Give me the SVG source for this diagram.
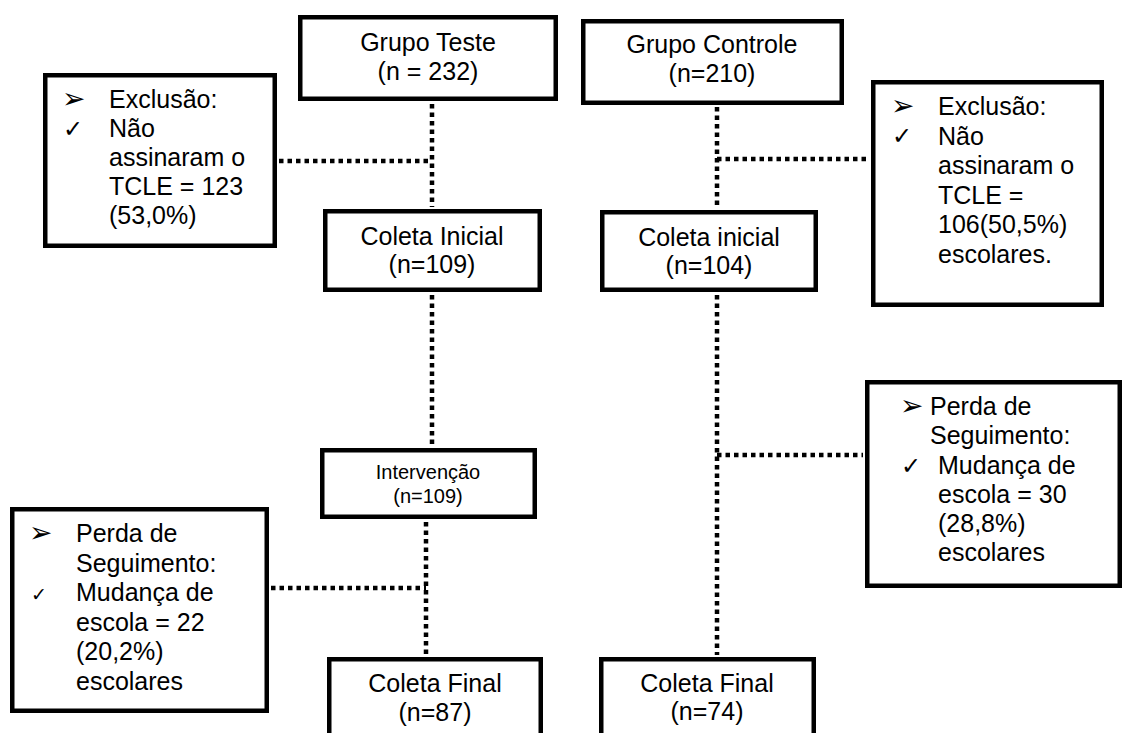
<svg xmlns="http://www.w3.org/2000/svg" width="1130" height="733" viewBox="0 0 1130 733">
<style>
.box{fill:#fff;stroke:#000;stroke-width:4.5}
.t{font-family:"Liberation Sans",Arial,sans-serif;font-size:25px;fill:#000}
.c{text-anchor:middle}
.s{font-size:20px}
.b{font-family:"DejaVu Sans",sans-serif;font-size:28px;fill:#000}
.k{font-family:"DejaVu Sans",sans-serif;font-size:24px;fill:#000}
.dot{stroke:#000;stroke-width:4.5;stroke-dasharray:4.5 4;fill:none}
</style>
<rect width="1130" height="733" fill="#fff"/>
<g id="connectors">
<line class="dot" x1="432" y1="104" x2="432" y2="207"/>
<line class="dot" x1="432" y1="295" x2="432" y2="446"/>
<line class="dot" x1="426" y1="522" x2="426" y2="655"/>
<line class="dot" x1="279" y1="161" x2="432" y2="161"/>
<line class="dot" x1="271" y1="588" x2="426" y2="588"/>
<line class="dot" x1="717" y1="107" x2="717" y2="208"/>
<line class="dot" x1="717" y1="295" x2="717" y2="655"/>
<line class="dot" x1="717" y1="159" x2="869" y2="159"/>
<line class="dot" x1="717" y1="455" x2="863" y2="455"/>
</g>
<g id="grupo-teste">
<rect class="box" x="300.25" y="17.25" width="255.5" height="81.5"/>
<text class="t c" x="428" y="51">Grupo Teste</text>
<text class="t c" x="428" y="80">(n = 232)</text>
</g>
<g id="grupo-controle">
<rect class="box" x="583.25" y="21.25" width="258.5" height="81.5"/>
<text class="t c" x="712" y="53">Grupo Controle</text>
<text class="t c" x="712" y="82">(n=210)</text>
</g>
<g id="exclusao-teste">
<rect class="box" x="45.25" y="75.25" width="229.5" height="170.5"/>
<text class="b" x="62" y="108">➢</text>
<text class="k" x="63" y="137">✓</text>
<text class="t" x="109" y="108">Exclusão:</text>
<text class="t" x="109" y="137">Não</text>
<text class="t" x="109" y="166">assinaram o</text>
<text class="t" x="109" y="195">TCLE = 123</text>
<text class="t" x="109" y="224">(53,0%)</text>
</g>
<g id="coleta-inicial-teste">
<rect class="box" x="325.25" y="211.25" width="214.5" height="78.5"/>
<text class="t c" x="432" y="245">Coleta Inicial</text>
<text class="t c" x="432" y="273">(n=109)</text>
</g>
<g id="coleta-inicial-controle">
<rect class="box" x="602.25" y="212.25" width="213.5" height="77.5"/>
<text class="t c" x="709" y="246">Coleta inicial</text>
<text class="t c" x="709" y="274">(n=104)</text>
</g>
<g id="exclusao-controle">
<rect class="box" x="873.25" y="82.25" width="228.5" height="222.5"/>
<text class="b" x="891" y="115">➢</text>
<text class="k" x="892" y="144">✓</text>
<text class="t" x="938" y="115">Exclusão:</text>
<text class="t" x="938" y="144.5">Não</text>
<text class="t" x="938" y="174">assinaram o</text>
<text class="t" x="938" y="204">TCLE =</text>
<text class="t" x="938" y="233">106(50,5%)</text>
<text class="t" x="938" y="263">escolares.</text>
</g>
<g id="intervencao">
<rect class="box" x="322.25" y="450.25" width="212.5" height="66.5"/>
<text class="t c s" x="428" y="479">Intervenção</text>
<text class="t c s" x="428" y="503">(n=109)</text>
</g>
<g id="perda-controle">
<rect class="box" x="867.25" y="382.25" width="252.5" height="203.5"/>
<text class="b" x="900" y="415">➢</text>
<text class="k" x="901" y="474">✓</text>
<text class="t" x="930" y="415">Perda de</text>
<text class="t" x="930" y="444">Seguimento:</text>
<text class="t" x="938" y="474">Mudança de</text>
<text class="t" x="938" y="503">escola = 30</text>
<text class="t" x="938" y="532">(28,8%)</text>
<text class="t" x="938" y="561">escolares</text>
</g>
<g id="perda-teste">
<rect class="box" x="12.25" y="509.25" width="254.5" height="201.5"/>
<text class="b" x="29" y="542">➢</text>
<text class="k" x="31" y="601" style="font-size:19px">✓</text>
<text class="t" x="76" y="542">Perda de</text>
<text class="t" x="76" y="571.5">Seguimento:</text>
<text class="t" x="76" y="601">Mudança de</text>
<text class="t" x="76" y="631">escola = 22</text>
<text class="t" x="76" y="660">(20,2%)</text>
<text class="t" x="76" y="690">escolares</text>
</g>
<g id="coleta-final-teste">
<rect class="box" x="329.25" y="659.25" width="211.5" height="90"/>
<text class="t c" x="435" y="692">Coleta Final</text>
<text class="t c" x="435" y="721">(n=87)</text>
</g>
<g id="coleta-final-controle">
<rect class="box" x="601.25" y="659.25" width="212.5" height="90"/>
<text class="t c" x="707" y="692">Coleta Final</text>
<text class="t c" x="707" y="720">(n=74)</text>
</g>
</svg>
